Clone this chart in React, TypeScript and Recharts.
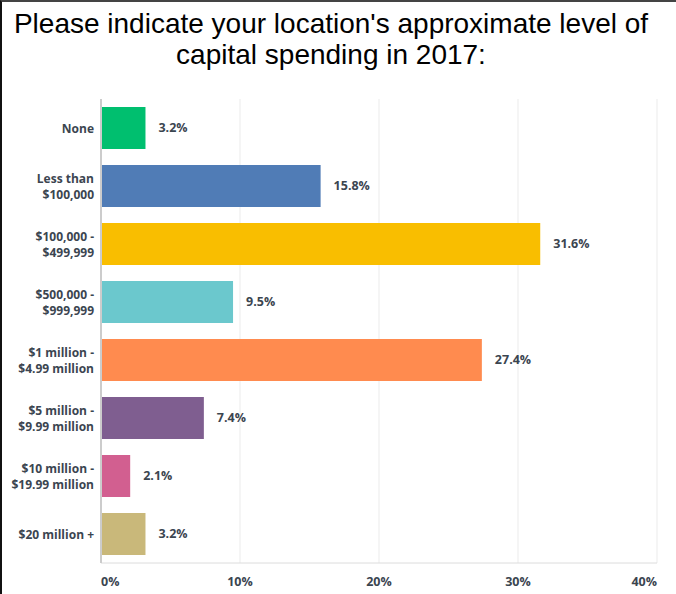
import React from 'react';
import { BarChart, Bar, XAxis, YAxis, CartesianGrid, Cell, LabelList } from 'recharts';

const categories = [
  'None',
  'Less than\n$100,000',
  '$100,000 -\n$499,999',
  '$500,000 -\n$999,999',
  '$1 million -\n$4.99 million',
  '$5 million -\n$9.99 million',
  '$10 million -\n$19.99 million',
  '$20 million +',
];
const values = [3.2, 15.8, 31.6, 9.5, 27.4, 7.4, 2.1, 3.2];
const colors = ['#00bf6f', '#507cb6', '#f9be00', '#6bc8cd', '#ff8b4f', '#7f5e90', '#d25f90', '#c9b87a'];
const xTicks = [0, 10, 20, 30, 40];

const data = categories.map((c, i) => ({ name: c, value: values[i] }));

const FONT = '"Open Sans", Lato, sans-serif';
const TEXT = '#3b4550';

const YTick = (props: any) => {
  const { x, y, payload } = props;
  const lines = String(payload.value).split('\n');
  const lh = 15.5;
  const y0 = y - ((lines.length - 1) * lh) / 2;
  return (
    <text x={x} y={y0} textAnchor="end" fill={TEXT} fontFamily={FONT} fontWeight={700} fontSize={12} dominantBaseline="central">
      {lines.map((l, i) => (
        <tspan key={i} x={x} y={y0 + i * lh} dominantBaseline="central">{l}</tspan>
      ))}
    </text>
  );
};

const XTick = (props: any) => {
  const { x, y, payload, index } = props;
  const anchor = index === 0 ? 'start' : index === xTicks.length - 1 ? 'end' : 'middle';
  return (
    <text x={x} y={y} textAnchor={anchor} fill={TEXT} fontFamily={FONT} fontWeight={700} fontSize={12.5} dominantBaseline="central">
      {payload.value + '%'}
    </text>
  );
};

export default function App() {
  return (
    <div style={{ position: 'absolute', left: 0, top: 0, width: 676, height: 594, background: '#fff', boxSizing: 'border-box', borderLeft: '2px solid #111', borderTop: '2px solid #444' }}>
      <div style={{ position: 'absolute', left: -9, top: 6, width: 676, textAlign: 'center', fontFamily: '"Liberation Sans", Arial, sans-serif', fontSize: 28, lineHeight: '31px', color: '#000' }}>
        Please indicate your location's approximate level of<br />capital spending in 2017:
      </div>
      <div style={{ position: 'absolute', left: -2, top: -2 }}>
        <BarChart width={676} height={594} data={data} layout="vertical" margin={{ top: 99, right: 19, bottom: 0, left: 0 }}>
          <CartesianGrid horizontal={false} vertical={true} stroke="#ebebeb" strokeWidth={1} />
          <XAxis type="number" domain={[0, 40]} ticks={xTicks} interval={0} axisLine={{ stroke: '#dcdcdc', strokeWidth: 1 }} tickLine={false} tick={<XTick />} height={31} tickMargin={12} />
          <YAxis type="category" dataKey="name" width={101} axisLine={{ stroke: '#cccccc', strokeWidth: 2 }} tickLine={false} tick={<YTick />} interval={0} tickMargin={1} />
          <Bar dataKey="value" barSize={42} isAnimationActive={false}>
            {data.map((d, i) => (
              <Cell key={i} fill={colors[i]} />
            ))}
            <LabelList dataKey="value" position="right" offset={13} formatter={(v: any) => Number(v).toFixed(1) + '%'} fill={TEXT} fontFamily={FONT} fontWeight={700} fontSize={12.5} />
          </Bar>
        </BarChart>
      </div>
    </div>
  );
}
